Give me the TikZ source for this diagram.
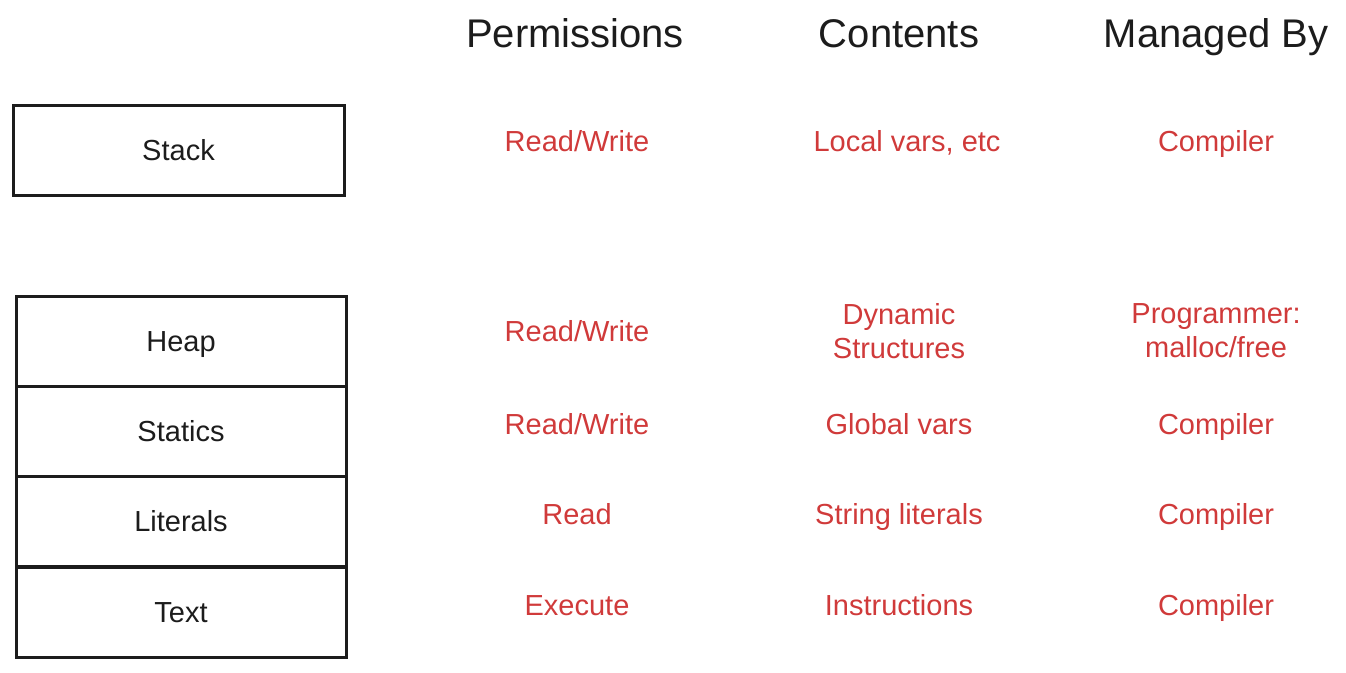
\documentclass[tikz,border=0pt]{standalone}
\usepackage{fontspec}
\setmainfont{Liberation Sans}
\definecolor{lblred}{RGB}{208,58,58}
\definecolor{ink}{RGB}{28,28,28}
\begin{document}
\begin{tikzpicture}[x=1pt,y=-1pt,
  seg/.style={draw=ink,line width=3pt,minimum height=90pt,inner sep=0pt,
    text height=20.8pt,text depth=0pt,
    font=\fontsize{29}{34}\selectfont,text=ink},
  hdr/.style={anchor=base,inner sep=0pt,font=\fontsize{40}{46}\selectfont,text=ink},
  cell/.style={anchor=base,inner sep=0pt,font=\fontsize{29}{34}\selectfont,text=lblred},
  cell2/.style={anchor=center,inner sep=0pt,align=center,font=\fontsize{29}{34}\selectfont,text=lblred}]
\useasboundingbox (0,0) rectangle (1346,672);
% headers
\node[hdr] (hperm) at (575,47) {Permissions};
\node[hdr] (hcont) at (899,47) {Contents};
\node[hdr] (hman) at (1216,47) {Managed By};
% boxes
\node[seg,minimum width=331pt] (stack) at (178.5,150) {Stack};
\node[seg,minimum width=330pt] (heap) at (181,341) {Heap};
\node[seg,minimum width=330pt] (statics) at (181,431) {Statics};
\node[seg,minimum width=330pt] (literals) at (181,521.5) {Literals};
\node[seg,minimum width=330pt] (text) at (181,612) {Text};
% row stack
\node[cell] (p1) at (577,151.5) {Read/Write};
\node[cell] (c1) at (907,151.5) {Local vars, etc};
\node[cell] (m1) at (1216,151.5) {Compiler};
% row heap
\node[cell] (p2) at (577,341.5) {Read/Write};
\node[cell2] (c2) at (899,331) {Dynamic\\Structures};
\node[cell2] (m2) at (1216,331) {Programmer:\\malloc/free};
% row statics
\node[cell] (p3) at (577,434.5) {Read/Write};
\node[cell] (c3) at (899,434.5) {Global vars};
\node[cell] (m3) at (1216,434.5) {Compiler};
% row literals
\node[cell] (p4) at (577,524.5) {Read};
\node[cell] (c4) at (899,524.5) {String literals};
\node[cell] (m4) at (1216,524.5) {Compiler};
% row text
\node[cell] (p5) at (577,615.5) {Execute};
\node[cell] (c5) at (899,615.5) {Instructions};
\node[cell] (m5) at (1216,615.5) {Compiler};
\end{tikzpicture}
\end{document}
